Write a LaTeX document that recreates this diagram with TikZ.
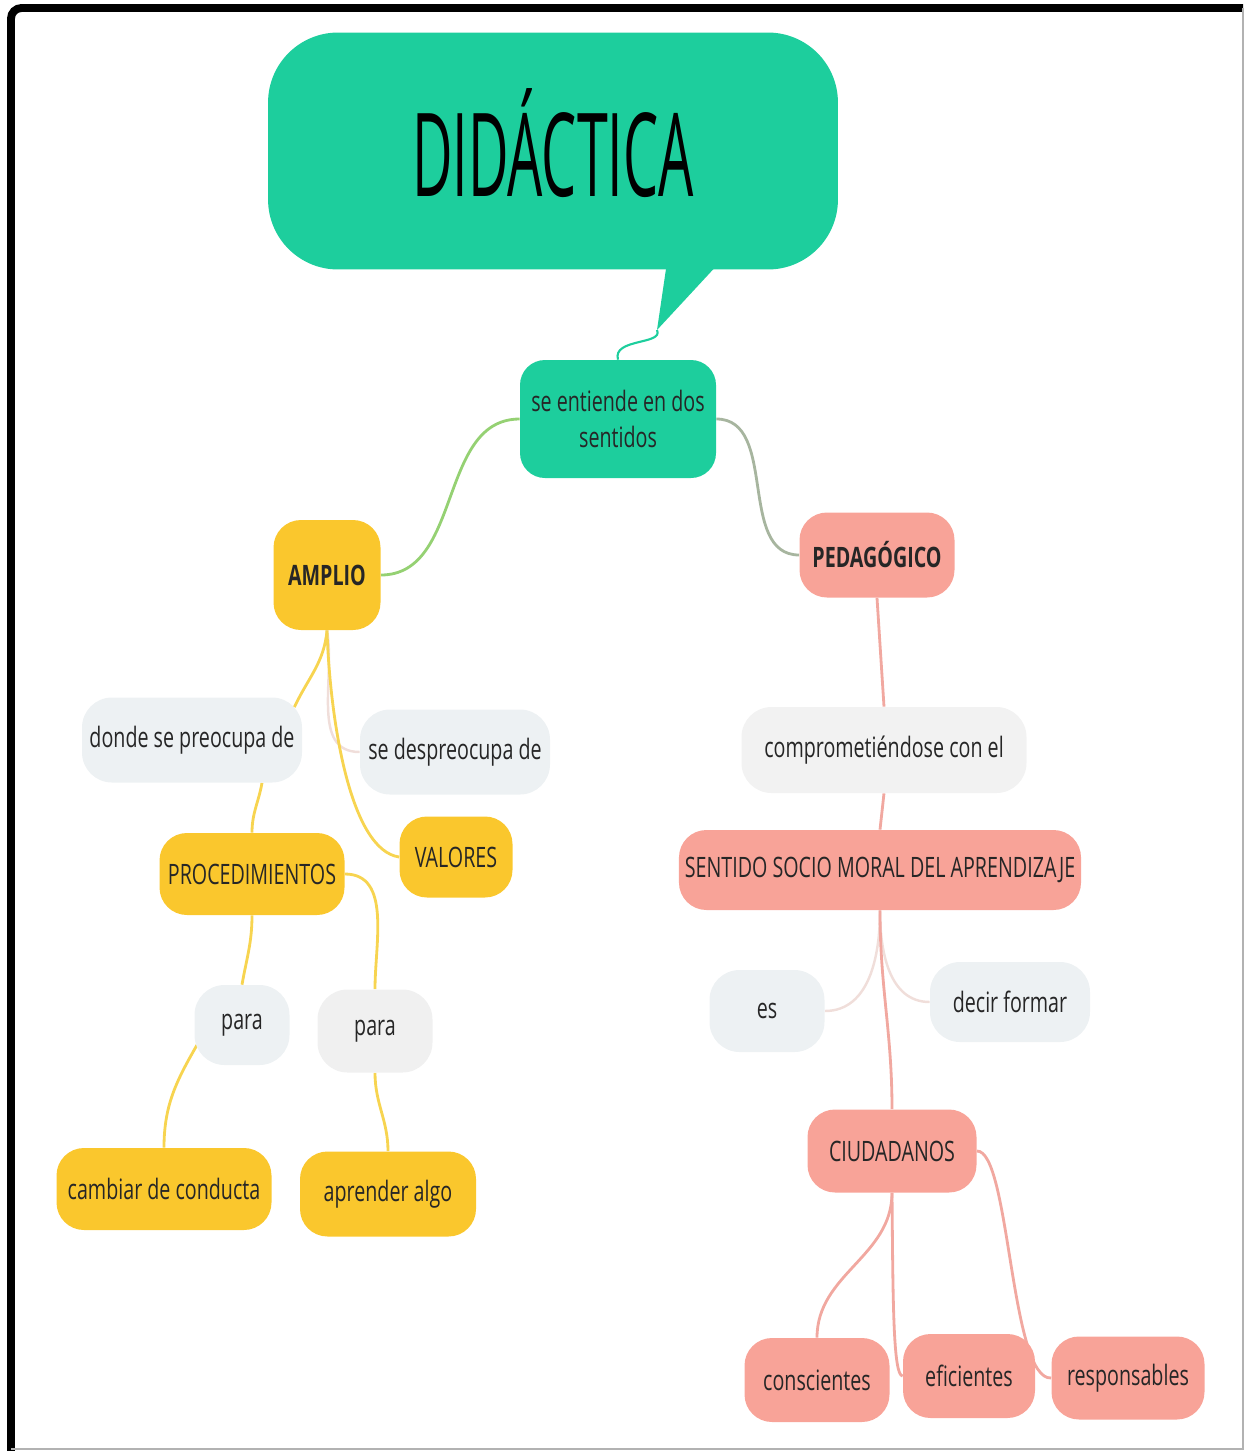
\documentclass[tikz,border=0pt]{standalone}
\usepackage{fontspec}
\setmainfont[FakeStretch=0.7]{Open Sans}
\newfontfamily\titlefont[FakeStretch=0.48]{Open Sans}
\usetikzlibrary{backgrounds,calc}
\definecolor{verde}{RGB}{29,206,157}
\definecolor{amarillo}{RGB}{250,199,45}
\definecolor{salmon}{RGB}{248,163,152}
\definecolor{gris}{RGB}{237,241,243}
\definecolor{lineamar}{RGB}{247,212,80}
\definecolor{linesal}{RGB}{241,168,160}
\definecolor{linefaint}{RGB}{240,222,218}
\tikzset{
    titlebox/.style = {rectangle, rounded corners=1.4cm, fill=verde, minimum width=11.4cm, minimum height=4.74cm, text=black, font=\titlefont\fontsize{66}{70}\selectfont},
    central/.style = {rectangle, rounded corners=0.5cm, fill=verde, text=black!85, align=center, font=\fontsize{16}{21}\selectfont},
    ampnode/.style = {rectangle, rounded corners=0.55cm, fill=amarillo, text=black!85, font=\fontsize{16}{19}\selectfont},
    pednode/.style = {rectangle, rounded corners=0.55cm, fill=salmon, text=black!85, font=\fontsize{16}{19}\selectfont},
    linkword/.style = {rectangle, rounded corners=0.6cm, fill=gris, text=black!85, font=\fontsize{16}{19}\selectfont},
    bx/.style 2 args = {minimum width=#1*0.02cm, minimum height=#2*0.02cm},
    ampline/.style = {line width=1.6pt, draw=lineamar},
    pedline/.style = {line width=1.6pt, draw=linesal},
    faintline/.style = {line width=1.4pt, draw=linefaint}
}
\begin{document}
\begin{tikzpicture}[x=0.02cm, y=-0.02cm]
\useasboundingbox (0,0) rectangle (1246,1451);
% marco
\draw[line width=4.5pt, rounded corners=6pt] (11,1451) -- (11,8) -- (1243,8);
\draw[gray!60, line width=0.6pt] (1243,8) -- (1243,1449) -- (11,1449);

% titulo
\node (titulo) [titlebox] at (553,151) {\raisebox{0.35cm}{DIDÁCTICA}};
\fill[verde] (667,262) -- (657,330) -- (720,262) -- cycle;
\coordinate (punta) at (657,330);

\node (cen) [central, bx={196}{118}] at (618,419) {se entiende en dos\\sentidos};

% rama amplio
\node (amp) [ampnode, bx={107}{110}, font=\bfseries\fontsize{16}{19}\selectfont] at (327,575) {AMPLIO};
\node (donde) [linkword, bx={220}{85}] at (192,740) {donde se preocupa de};
\node (desp) [linkword, bx={190}{85}] at (455,752) {se despreocupa de};
\node (valores) [ampnode, bx={113}{81}] at (456,857) {VALORES};
\node (proc) [ampnode, bx={185}{82}] at (252,874) {PROCEDIMIENTOS};
\node (para1) [linkword, bx={95}{80}] at (242,1025) {para};
\node (para2) [linkword, bx={115}{83}, fill=gray!12] at (375,1031) {para};
\node (cambiar) [ampnode, bx={215}{82}] at (164,1189) {cambiar de conducta};
\node (aprender) [ampnode, bx={176}{85}] at (388,1194) {aprender algo};

% rama pedagogico
\node (ped) [pednode, bx={155}{85}, font=\bfseries\fontsize{16}{19}\selectfont] at (877,555) {PEDAGÓGICO};
\node (comp) [linkword, bx={285}{86}, fill=gray!10] at (884,750) {comprometiéndose con el};
\node (sentido) [pednode, bx={400}{80}] at (880,870) {SENTIDO SOCIO MORAL DEL APRENDIZAJE};
\node (es) [linkword, bx={115}{82}] at (767,1011) {es};
\node (decir) [linkword, bx={160}{80}] at (1010,1002) {decir formar};
\node (ciud) [pednode, bx={169}{83}] at (892,1151) {CIUDADANOS};
\node (consc) [pednode, bx={145}{84}] at (817,1380) {conscientes};
\node (efic) [pednode, bx={132}{84}] at (969,1376) {eficientes};
\node (resp) [pednode, bx={153}{83}] at (1128,1378) {responsables};

\begin{scope}[on background layer]
\draw[verde, line width=1.2pt] (punta) .. controls (664,345) and (612,338) .. (cen.north);
\draw[line width=1.6pt, draw=verde!45!lineamar] (cen.west) to[out=180,in=0] (amp.east);
\draw[line width=1.6pt, draw=verde!35!linesal] (cen.east) to[out=0,in=180] (ped.west);

\draw [ampline] (amp.south) to[out=-95,in=65] ($(donde.north east)+(-8,10)$);
\draw [faintline] (amp.south) to[out=-80,in=180] (desp.west);
\draw [ampline] (amp.south) .. controls (330,720) and (350,850) .. (valores.west);
\draw [ampline] ($(donde.south)+(70,0)$) to[out=-100,in=90] (proc.north);
\draw [ampline] (proc.south) to[out=-90,in=80] (para1.north);
\draw [ampline] (proc.east) to[out=0,in=90] (para2.north);
\draw [ampline] ($(para1.west)+(4,18)$) to[out=-120,in=90] (cambiar.north);
\draw [ampline] (para2.south) to[out=-90,in=90] (aprender.north);

\draw [pedline] (ped.south) -- (comp.north);
\draw [pedline] (comp.south) -- (sentido.north);
\draw [faintline] (sentido.south) to[out=-90,in=0] (es.east);
\draw [faintline] (sentido.south) to[out=-90,in=180] (decir.west);
\draw [pedline] (sentido.south) to[out=-90,in=90] (ciud.north);
\draw [pedline] (ciud.south) to[out=-90,in=90] (consc.north);
\draw [pedline] (ciud.south) .. controls (893,1300) and (893,1376) .. (efic.west);
\draw [pedline] (ciud.east) .. controls (1010,1150) and (1010,1380) .. (resp.west);
\end{scope}
\end{tikzpicture}
\end{document}
